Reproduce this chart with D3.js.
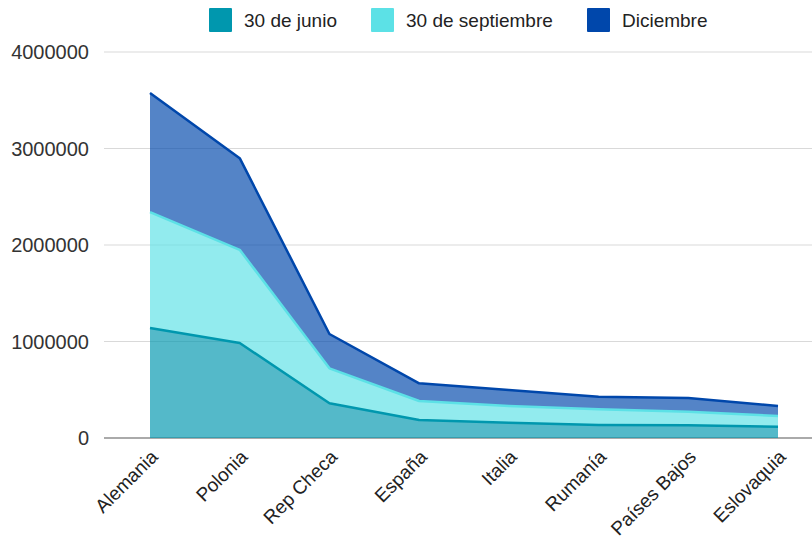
<!DOCTYPE html>
<html>
<head>
<meta charset="utf-8">
<script src="https://cdn.jsdelivr.net/npm/d3@7"></script>
<style>
  body { margin: 0; background: #fff; }
  text { font-family: "Liberation Sans", Arial, sans-serif; }
</style>
</head>
<body>
<div id="chart"></div>
<script>
const countries = ['Alemania', 'Polonia', 'Rep Checa', 'España', 'Italia', 'Rumanía', 'Países Bajos', 'Eslovaquia'];
const seriesNames = ['30 de junio', '30 de septiembre', 'Diciembre'];
const junio = [1140000, 985000, 360000, 187000, 159000, 135000, 131000, 117000];
const septiembre = [1200000, 965000, 362000, 196000, 173000, 162000, 141000, 111000];
const diciembre = [1235000, 950000, 356000, 184000, 165000, 131000, 143000, 104000];
const yTicks = [0, 1000000, 2000000, 3000000, 4000000];
const colors = ['#0097ae', '#5ce1e6', '#0047ab'];

const width = 812, height = 540;
const margin = { top: 52, right: 0, bottom: 102, left: 104 };

const rows = countries.map((c, i) => ({
    country: c,
    [seriesNames[0]]: junio[i],
    [seriesNames[1]]: septiembre[i],
    [seriesNames[2]]: diciembre[i]
}));

const svg = d3.select('#chart').append('svg')
    .attr('width', width)
    .attr('height', height);

const x = d3.scalePoint()
    .domain(countries)
    .range([150, 778]);

const y = d3.scaleLinear()
    .domain([0, 4000000])
    .range([height - margin.bottom, margin.top]);

// gridlines
svg.append('g')
    .selectAll('line')
    .data(yTicks)
    .enter().append('line')
    .attr('x1', margin.left)
    .attr('x2', width)
    .attr('y1', d => y(d))
    .attr('y2', d => y(d))
    .style('stroke', d => d === 0 ? '#aaa' : '#d9d9d9')
    .style('stroke-width', d => d === 0 ? 2 : 1);

// y labels
svg.append('g')
    .selectAll('text')
    .data(yTicks)
    .enter().append('text')
    .attr('x', 89)
    .attr('y', d => y(d))
    .attr('dy', '0.35em')
    .style('text-anchor', 'end')
    .style('font-size', '20px')
    .style('fill', '#333')
    .text(d => d);

const stack = d3.stack().keys(seriesNames);
const layers = stack(rows);

const area = d3.area()
    .x(d => x(d.data.country))
    .y0(d => y(d[0]))
    .y1(d => y(d[1]));

const topLine = d3.line()
    .x(d => x(d.data.country))
    .y(d => y(d[1]));

svg.append('g')
    .selectAll('path')
    .data(layers)
    .enter().append('path')
    .attr('d', area)
    .style('fill', (d, i) => colors[i])
    .style('fill-opacity', 0.67);

svg.append('g')
    .selectAll('path')
    .data(layers)
    .enter().append('path')
    .attr('d', topLine)
    .style('fill', 'none')
    .style('stroke', (d, i) => colors[i])
    .style('stroke-width', 2.5)
    .style('stroke-linejoin', 'round');

// x labels (rotated)
svg.append('g')
    .selectAll('text')
    .data(countries)
    .enter().append('text')
    .attr('transform', d => `translate(${x(d) + 9},${height - margin.bottom + 20}) rotate(-45)`)
    .style('text-anchor', 'end')
    .style('font-size', '19px')
    .style('fill', '#222')
    .text(d => d);

// legend
const legendX = [209, 371, 587];
const legend = svg.append('g')
    .selectAll('g')
    .data(seriesNames)
    .enter().append('g')
    .attr('transform', (d, i) => `translate(${legendX[i]},8)`);

legend.append('rect')
    .attr('width', 23)
    .attr('height', 24)
    .attr('rx', 1)
    .style('fill', (d, i) => colors[i]);

legend.append('text')
    .attr('x', 35)
    .attr('y', 12)
    .attr('dy', '0.35em')
    .style('font-size', '19px')
    .style('fill', '#222')
    .text(d => d);
</script>
</body>
</html>
